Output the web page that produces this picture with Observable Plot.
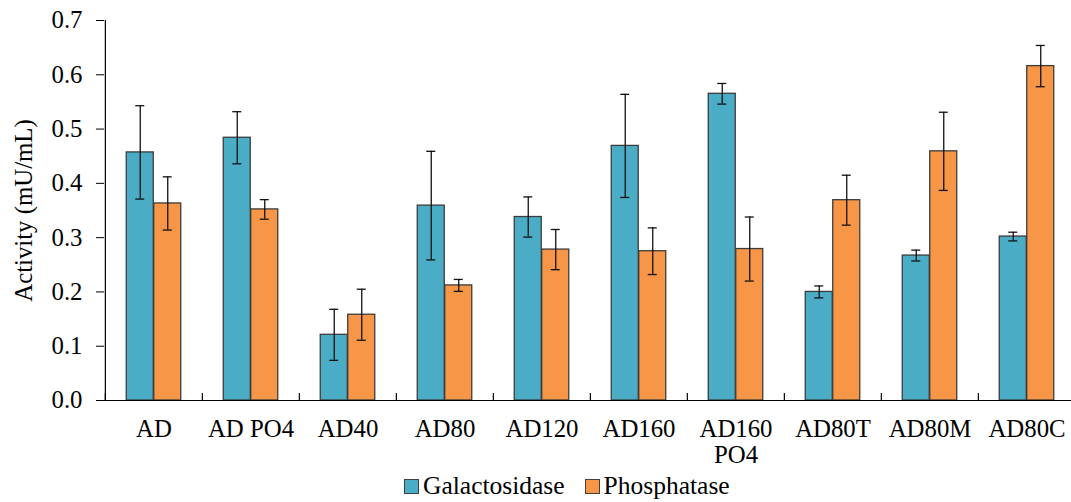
<!DOCTYPE html>
<html>
<head>
<meta charset="utf-8">
<script src="https://cdn.jsdelivr.net/npm/d3@7"></script>
<script src="https://cdn.jsdelivr.net/npm/@observablehq/plot@0.6"></script>
<style>
  html, body { margin: 0; padding: 0; background: white; }
  #wrap { position: relative; width: 1071px; height: 502px; overflow: hidden; }
  #wrap svg { position: absolute; left: 0; top: 0; }
  .legend { position: absolute; left: 404px; top: 471px; display: flex; align-items: center;
            font-family: "Liberation Serif", "Times New Roman", serif; font-size: 25.5px; color: #000; z-index: 2; }
  .legend .item { display: flex; align-items: center; margin-right: 20px; }
  .legend .sw { width: 13px; height: 13px; border: 1px solid #404040; margin-right: 4px; }
</style>
</head>
<body>
<div id="wrap"></div>
<script>
const categories = ["AD", "AD PO4", "AD40", "AD80", "AD120", "AD160", "AD160\nPO4", "AD80T", "AD80M", "AD80C"];
const series = ["Galactosidase", "Phosphatase"];
const colors = ["#4BACC6", "#F79646"];
const galactosidase = [0.457, 0.484, 0.121, 0.359, 0.338, 0.469, 0.565, 0.200, 0.267, 0.302];
const galactosidaseErr = [0.086, 0.048, 0.047, 0.100, 0.037, 0.095, 0.019, 0.011, 0.010, 0.008];
const phosphatase = [0.363, 0.352, 0.158, 0.212, 0.278, 0.275, 0.279, 0.369, 0.459, 0.616];
const phosphataseErr = [0.049, 0.018, 0.047, 0.011, 0.037, 0.043, 0.059, 0.046, 0.072, 0.038];
const yTicks = [0, 0.1, 0.2, 0.3, 0.4, 0.5, 0.6, 0.7];

const gal = categories.map((c, i) => ({cat: c, v: galactosidase[i], e: galactosidaseErr[i]}));
const pho = categories.map((c, i) => ({cat: c, v: phosphatase[i], e: phosphataseErr[i]}));

const W = 1071, H = 480;
const left = 104, right = 1077;
const step = (right - left) / categories.length;
const half = step * (1 - 0.7174) / 2; // half bar width

const barStroke = "#3c3c3c";
const errStyle = {stroke: "#111", strokeWidth: 1.3};

function seriesMarks(data, color, dx) {
  return [
    Plot.barY(data, {x: "cat", y: "v", fill: color, stroke: barStroke, strokeWidth: 1.3, dx}),
    Plot.ruleX(data, {x: "cat", y1: d => d.v - d.e, y2: d => d.v + d.e, dx, ...errStyle}),
    Plot.tickY(data, {x: "cat", y: d => d.v + d.e, dx, insetLeft: 9, insetRight: 9, ...errStyle}),
    Plot.tickY(data, {x: "cat", y: d => d.v - d.e, dx, insetLeft: 9, insetRight: 9, ...errStyle})
  ];
}

const chart = Plot.plot({
  width: W,
  height: H,
  marginLeft: left,
  marginRight: 0,
  marginTop: 20,
  marginBottom: 80,
  style: {fontFamily: "'Liberation Serif', 'Times New Roman', serif", fontSize: "24.8px", background: "white", color: "#000", overflow: "visible"},
  x: {domain: categories, range: [left, right], paddingInner: 0.7174, paddingOuter: 0.3587, align: 0.5},
  y: {domain: [0, 0.7], range: [400, 20]},
  marks: [
    ...seriesMarks(gal, colors[0], -half),
    ...seriesMarks(pho, colors[1], half),
    Plot.ruleX(categories, {x: d => d, dx: -step / 2, y1: 0, y2: 0.013, stroke: "#000", strokeWidth: 1.2}),
    Plot.ruleX([categories[0]], {x: d => d, dx: -step / 2, y1: 0, y2: 0.7, stroke: "#000", strokeWidth: 1.2}),
    Plot.ruleY([0], {stroke: "#000", strokeWidth: 1.2}),
    Plot.axisY({ticks: yTicks, tickFormat: d => d.toFixed(1), tickSize: 8, tickPadding: 14, label: "Activity (mU/mL)", labelAnchor: "center", labelOffset: 90, labelArrow: "none", stroke: "#000"}),
    Plot.axisX({tickSize: 0, tickPadding: 19, label: null, lineHeight: 1.02})
  ]
});

document.getElementById("wrap").appendChild(chart);

const legend = document.createElement("div");
legend.className = "legend";
series.forEach((s, i) => {
  const item = document.createElement("div");
  item.className = "item";
  const sw = document.createElement("div");
  sw.className = "sw";
  sw.style.background = colors[i];
  const t = document.createElement("span");
  t.textContent = s;
  item.appendChild(sw);
  item.appendChild(t);
  legend.appendChild(item);
});
document.getElementById("wrap").appendChild(legend);
</script>
</body>
</html>
